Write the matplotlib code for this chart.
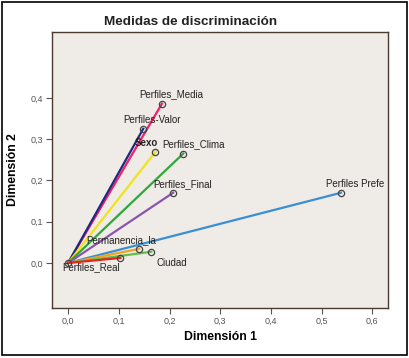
import matplotlib.pyplot as plt
from matplotlib.patches import Rectangle

variables = ['Perfiles_Media', 'Perfiles-Valor', 'Sexo', 'Perfiles_Clima',
             'Perfiles_Final', 'Perfiles Prefe', 'Permanencia_la', 'Ciudad',
             'Perfiles_Real']
dim1 = [0.185, 0.148, 0.172, 0.227, 0.207, 0.538, 0.140, 0.164, 0.103]
dim2 = [0.386, 0.325, 0.269, 0.265, 0.170, 0.170, 0.034, 0.027, 0.012]
colors = ['#f0206e', '#1c2a82', '#f2e21a', '#2ea83a', '#8a55b0',
          '#3a8fd2', '#f5a21e', '#5fbf4a', '#e42420']
# label offsets in points (dx, dy) and alignment
offsets = [(7, 6.5, 'center'), (6, 6, 'center'), (2, 6.5, 'right'), (7, 6.5, 'center'),
           (7, 6, 'center'), (10, 6.5, 'center'), (-13, 6, 'center'), (15, -8, 'center'),
           (-21, -6.5, 'center')]

xticks = [0.0, 0.1, 0.2, 0.3, 0.4, 0.5, 0.6]
yticks = [0.0, 0.1, 0.2, 0.3, 0.4]

fig = plt.figure(figsize=(4.09, 3.58), dpi=100)
fig.patch.set_facecolor('white')
fig.patches.append(Rectangle((0.004, 0.008), 0.99, 0.986, transform=fig.transFigure,
                             fill=False, edgecolor='black', linewidth=1.2))

ax = fig.add_axes([0.127, 0.14, 0.822, 0.771])
ax.set_facecolor('#efebe6')
for s in ax.spines.values():
    s.set_color('#4a3a30')
    s.set_linewidth(1.0)

for name, x, y, c, (dx, dy, ha) in zip(variables, dim1, dim2, colors, offsets):
    ax.plot([0, x], [0, y], color=c, linewidth=1.6, zorder=2)
    ax.plot(x, y, 'o', markerfacecolor='none', markeredgecolor='#444444',
            markersize=4.5, markeredgewidth=0.9, zorder=3)
    weight = 'bold' if name == 'Sexo' else 'normal'
    ax.annotate(name, (x, y), xytext=(dx, dy), textcoords='offset points',
                ha=ha, va='center', fontsize=7, color='#222222',
                fontweight=weight, family='Liberation Sans')
ax.plot(0, 0, 'o', markerfacecolor='none', markeredgecolor='#444444',
        markersize=4.5, markeredgewidth=0.9, zorder=3)

ax.set_xlim(-0.032, 0.631)
ax.set_ylim(-0.109, 0.56)
ax.set_xticks(xticks)
ax.set_yticks(yticks)
ax.set_xticklabels([f'{t:.1f}'.replace('.', ',') for t in xticks])
ax.set_yticklabels([f'{t:.1f}'.replace('.', ',') for t in yticks])
ax.tick_params(labelsize=6.5, labelcolor='#555555', color='#555555', length=4,
               pad=2.5)
for lbl in ax.get_xticklabels() + ax.get_yticklabels():
    lbl.set_family('Liberation Sans')

ax.set_xlabel('Dimensión 1', fontsize=8.8, fontweight='bold', family='Liberation Sans',
              labelpad=4)
ax.set_ylabel('Dimensión 2', fontsize=8.8, fontweight='bold', family='Liberation Sans',
              labelpad=8)
fig.text(0.465, 0.938, 'Medidas de discriminación', ha='center', va='center',
         fontsize=9.7, fontweight='bold', family='Liberation Sans', color='#222222')

fig.savefig('out.png', dpi=100)
